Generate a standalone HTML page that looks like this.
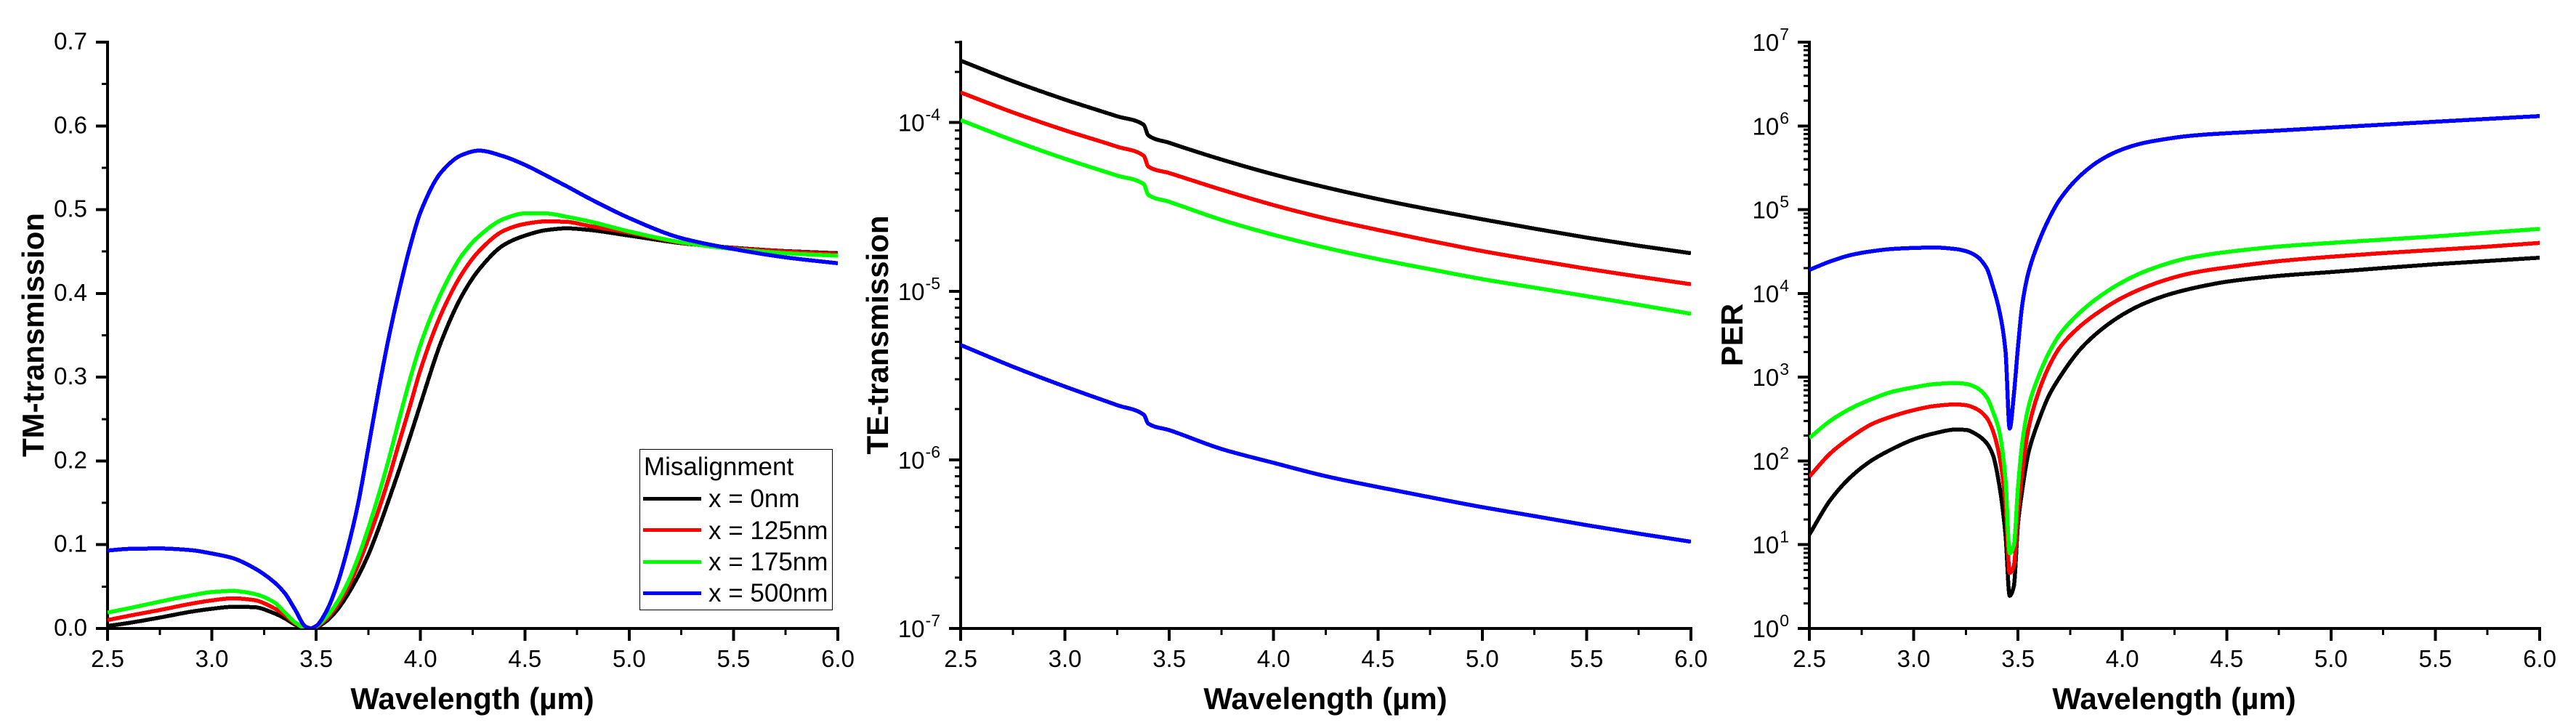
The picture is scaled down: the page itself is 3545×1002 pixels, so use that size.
<!DOCTYPE html>
<html>
<head>
<meta charset="utf-8">
<title>Misalignment transmission charts</title>
<style>
html,body{margin:0;padding:0;background:#fff;}
svg{display:block;}
text{font-family:"Liberation Sans",Arial,sans-serif;fill:#000;}
.title{font-weight:bold;font-size:42px;text-anchor:middle;}
.tick{font-size:33px;}
.leg{font-size:35px;}
</style>
</head>
<body>
<svg id="figure" xmlns="http://www.w3.org/2000/svg" width="3545" height="1002" viewBox="0 0 3545 1002">
  <rect width="3545" height="1002" fill="#fff"/>
  <defs>
    <clipPath id="clip-tm"><rect x="148" y="58" width="1005" height="807"/></clipPath>
    <clipPath id="clip-te"><rect x="1322" y="58" width="1005" height="807"/></clipPath>
    <clipPath id="clip-per"><rect x="2490" y="58" width="1005" height="807"/></clipPath>
  </defs>

  <g id="chart-tm">
    <text class="title" x="650" y="976">Wavelength (µm)</text>
    <text class="title" transform="translate(60,461) rotate(-90)">TM-transmission</text>
  </g>
  <g id="chart-te">
    <text class="title" x="1824" y="976">Wavelength (µm)</text>
    <text class="title" transform="translate(1222,461) rotate(-90)">TE-transmission</text>
  </g>
  <g id="chart-per">
    <text class="title" x="2992" y="976">Wavelength (µm)</text>
    <text class="title" transform="translate(2398,461) rotate(-90)">PER</text>
  </g>

  <g id="legend">
    <rect x="880.5" y="618.5" width="265" height="221" fill="#fff" stroke="#000" stroke-width="1" shape-rendering="crispEdges"/>
    <text class="leg" x="886" y="654">Misalignment</text>
    <rect x="885" y="684" width="80" height="5" fill="#000"/>
    <text class="leg" x="975" y="698">x = 0nm</text>
    <rect x="885" y="727" width="80" height="5" fill="#f00"/>
    <text class="leg" x="975" y="742">x = 125nm</text>
    <rect x="885" y="771" width="80" height="5" fill="#0f0"/>
    <text class="leg" x="975" y="785">x = 175nm</text>
    <rect x="885" y="814" width="80" height="5" fill="#00f"/>
    <text class="leg" x="975" y="828">x = 500nm</text>
  </g>
</svg>

<script>
// ---------- shared axis data ----------
const xTickValues = [2.5, 3.0, 3.5, 4.0, 4.5, 5.0, 5.5, 6.0];
const xTickLabels = ['2.5', '3.0', '3.5', '4.0', '4.5', '5.0', '5.5', '6.0'];
const xMinorValues = [2.75, 3.25, 3.75, 4.25, 4.75, 5.25, 5.75];
const seriesColors = ['#000000', '#ff0000', '#00ff00', '#0000ff'];
const seriesKeys = ['x-0nm', 'x-125nm', 'x-175nm', 'x-500nm'];

// ---------- TM transmission ----------
const tmWavelength = [2.5,2.6,2.75,2.9,3.0,3.1,3.2,3.3,3.35,3.4,3.45,3.475,3.5,3.55,3.6,3.65,3.7,3.75,3.8,3.85,3.9,3.95,4.0,4.1,4.2,4.28,4.4,4.5,4.6,4.7,4.8,5.0,5.25,5.5,5.75,6.0];
const tm0nm   = [.003,.0065,.013,.020,.0235,.0258,.0255,.018,.012,.0045,.0003,0,.0015,.009,.022,.040,.062,.088,.120,.155,.191,.229,.268,.343,.398,.4284,.458,.469,.4755,.4777,.476,.469,.46,.4545,.4505,.448];
const tm125nm = [.0100,.015,.022,.0295,.0335,.036,.034,.024,.016,.006,.0004,0,.002,.0115,.027,.048,.075,.107,.142,.181,.224,.266,.309,.376,.424,.4504,.475,.483,.486,.4855,.481,.4725,.4605,.454,.45,.447];
const tm175nm = [.019,.024,.032,.0395,.0435,.0448,.0415,.031,.019,.007,.0005,0,.0025,.014,.031,.054,.084,.120,.160,.204,.252,.298,.339,.401,.446,.4684,.489,.4955,.4955,.4915,.4865,.474,.461,.453,.448,.445];
const tm500nm = [.093,.095,.0955,.0935,.0895,.084,.0725,.055,.042,.022,.002,.0003,.003,.021,.052,.095,.148,.216,.286,.350,.406,.456,.497,.545,.5655,.5705,.5635,.5535,.541,.528,.5145,.490,.466,.453,.443,.436];
const tmTickValues = [0,.1,.2,.3,.4,.5,.6,.7];
const tmTickLabels = ['0.0','0.1','0.2','0.3','0.4','0.5','0.6','0.7'];
const tmMinorValues = [.05,.15,.25,.35,.45,.55,.65];

// ---------- TE transmission ----------
const teWavelength = [2.5,2.75,3.0,3.25,3.378,3.399,3.5,3.75,4.0,4.25,4.5,4.75,5.0,5.25,5.5,5.75,6.0];
const te0nm   = [2.33e-4,1.76e-4,1.37e-4,1.09e-4,9.69e-5,8.4e-5,7.59e-5,6.04e-5,4.93e-5,4.13e-5,3.52e-5,3.05e-5,2.67e-5,2.35e-5,2.08e-5,1.86e-5,1.68e-5];
const te125nm = [1.51e-4,1.15e-4,9.0e-5,7.2e-5,6.35e-5,5.49e-5,5.02e-5,4.0e-5,3.24e-5,2.70e-5,2.31e-5,1.99e-5,1.73e-5,1.53e-5,1.36e-5,1.22e-5,1.10e-5];
const te175nm = [1.035e-4,7.85e-5,6.1e-5,4.85e-5,4.31e-5,3.73e-5,3.39e-5,2.65e-5,2.16e-5,1.81e-5,1.55e-5,1.35e-5,1.18e-5,1.05e-5,9.35e-6,8.3e-6,7.35e-6];
const te500nm = [4.8e-6,3.57e-6,2.72e-6,2.11e-6,1.85e-6,1.64e-6,1.50e-6,1.16e-6,9.6e-7,8.0e-7,6.9e-7,6.0e-7,5.24e-7,4.64e-7,4.1e-7,3.65e-7,3.27e-7];
const teDecades = [-7,-6,-5,-4];
const teDecadeLabels = ['-7','-6','-5','-4'];
const teMinorMultipliers = [2,3,4,5,6,7,8,9];
const teMin = 1e-7;
const teMax = 3e-4;

// ---------- PER ----------
const perWavelength = [2.5,2.6,2.7,2.8,2.9,3.0,3.1,3.2,3.25,3.3,3.35,3.38,3.41,3.44,3.46,3.48,3.5,3.52,3.55,3.6,3.65,3.7,3.8,3.9,4.0,4.1,4.2,4.3,4.4,4.5,4.75,5.0,5.25,5.5,5.75,6.0];
const per0nm   = [13.2,34,65,102,140,181,214,237,235,208,163,117,52,13,2.45,3.2,18,44.5,125,307,617,1000,2180,3720,5560,7500,9330,10960,12450,13800,16200,18000,20100,22300,24400,26700];
const per125nm = [65,123,193,276,343,404,453,473,463,419,327,227,117,31,4.6,5.6,24,73,243,682,1370,2260,4110,6310,8910,11600,14300,16800,18800,20400,24300,27400,30300,33100,36200,40100];
const per175nm = [188,301,426,550,674,756,827,851,832,753,577,387,227,60,7.9,9.9,49,163,442,1050,2000,3240,6030,9550,13650,18000,22130,26000,28840,31260,36300,40100,43900,48000,53200,58900];
const per500nm = [19100,24100,28800,31900,34000,34900,35300,33900,32000,28000,20000,12000,6310,2040,243,617,2330,7240,17800,41700,79400,132000,257000,398000,525000,624000,692000,750000,789000,817000,881000,955000,1035000,1122000,1213000,1310000];
const perDecades = [0,1,2,3,4,5,6,7];
const perDecadeLabels = ['0','1','2','3','4','5','6','7'];
const perMinorMultipliers = [2,3,4,5,6,7,8,9];
const perMin = 1;
const perMax = 1e7;

// ---------- drawing ----------
const SVG_NS = 'http://www.w3.org/2000/svg';
const PLOT_TOP = 58, PLOT_BOTTOM = 865, PLOT_W = 1005;

function node(tag, parent, attrs) {
  const el = document.createElementNS(SVG_NS, tag);
  for (const k in attrs) el.setAttribute(k, attrs[k]);
  parent.appendChild(el);
  return el;
}
function xScale(left) { return v => left + (v - 2.5) / 3.5 * PLOT_W; }
function linScale(max) { return v => PLOT_BOTTOM - v / max * (PLOT_BOTTOM - PLOT_TOP); }
function logScale(min, max) {
  const a = Math.log10(min), b = Math.log10(max);
  return v => PLOT_BOTTOM - (Math.log10(v) - a) / (b - a) * (PLOT_BOTTOM - PLOT_TOP);
}
function monotonePath(xs, ys) {
  const n = xs.length, h = [], s = [], m = new Array(n);
  for (let i = 0; i < n - 1; i++) { h[i] = xs[i+1] - xs[i]; s[i] = (ys[i+1] - ys[i]) / h[i]; }
  m[0] = s[0]; m[n-1] = s[n-2];
  for (let i = 1; i < n - 1; i++) {
    if (s[i-1] * s[i] <= 0) m[i] = 0;
    else {
      const w1 = 2 * h[i] + h[i-1], w2 = h[i] + 2 * h[i-1];
      m[i] = (w1 + w2) / (w1 / s[i-1] + w2 / s[i]);
    }
  }
  let d = 'M' + xs[0].toFixed(2) + ' ' + ys[0].toFixed(2);
  for (let i = 0; i < n - 1; i++) {
    const c1x = xs[i] + h[i] / 3, c1y = ys[i] + m[i] * h[i] / 3;
    const c2x = xs[i+1] - h[i] / 3, c2y = ys[i+1] - m[i+1] * h[i] / 3;
    d += 'C' + c1x.toFixed(2) + ' ' + c1y.toFixed(2) + ' ' + c2x.toFixed(2) + ' ' + c2y.toFixed(2) + ' ' + xs[i+1].toFixed(2) + ' ' + ys[i+1].toFixed(2);
  }
  return d;
}
function drawSeries(group, clipId, wavelengths, seriesList, xf, yf) {
  const layer = node('g', group, {'clip-path': 'url(#' + clipId + ')'});
  
  
  seriesList.forEach((vals, i) => {
    const p = node('path', layer, {
      d: monotonePath(wavelengths.map(xf), vals.map(yf)),
      fill: 'none', stroke: seriesColors[i], 'stroke-width': 5.5,
      'stroke-linejoin': 'round', 'shape-rendering': 'crispEdges'
    });
    
    
  });
}
function drawAxes(group, xf, left) {
  const ax = node('g', group, {stroke: '#000', 'shape-rendering': 'crispEdges'});
  
  
  const yLine = node('line', ax, {x1: left, x2: left, y1: PLOT_TOP - 2, y2: PLOT_BOTTOM + 2, 'stroke-width': 4});
  
  
  const xLine = node('line', ax, {x1: left - 2, x2: left + PLOT_W + 2, y1: PLOT_BOTTOM, y2: PLOT_BOTTOM, 'stroke-width': 4});
  
  
  xTickValues.forEach((v, i) => {
    const t = node('line', ax, {x1: xf(v), x2: xf(v), y1: PLOT_BOTTOM, y2: PLOT_BOTTOM + 17, 'stroke-width': 4});
    
    
    const l = node('text', group, {x: xf(v), y: 918, class: 'tick', 'text-anchor': 'middle'});
    
    
    l.textContent = xTickLabels[i];
  });
  xMinorValues.forEach(v => {
    const t = node('line', ax, {x1: xf(v), x2: xf(v), y1: PLOT_BOTTOM, y2: PLOT_BOTTOM + 9, 'stroke-width': 3});
    
    
  });
  return ax;
}
function yMajor(ax, left, y) {
  const t = node('line', ax, {x1: left - 16, x2: left, y1: y, y2: y, 'stroke-width': 4});
  
  
}
function yMinor(ax, left, y) {
  const t = node('line', ax, {x1: left - 8, x2: left, y1: y, y2: y, 'stroke-width': 3});
  
  
}
function drawLogY(group, ax, left, yf, decades, labels, multipliers, max) {
  decades.forEach((dec, i) => {
    const y = yf(Math.pow(10, dec));
    yMajor(ax, left, y);
    const l = node('text', group, {x: left - 28, y: y + 12, class: 'tick', 'text-anchor': 'end'});
    
    
    const base = node('tspan', l, {});
    base.textContent = '10';
    const exp = node('tspan', l, {dy: -15, 'font-size': 23, dx: 1});
    exp.textContent = labels[i];
    multipliers.forEach(m => {
      const val = m * Math.pow(10, dec);
      if (val <= max * 1.0001) yMinor(ax, left, yf(val));
    });
  });
}

// TM chart
(function () {
  const g = document.getElementById('chart-tm');
  const left = 148, xf = xScale(left), yf = linScale(0.7);
  const ax = drawAxes(g, xf, left);
  tmTickValues.forEach((v, i) => {
    yMajor(ax, left, yf(v));
    const l = node('text', g, {x: 120, y: yf(v) + 10, class: 'tick', 'text-anchor': 'end'});
    
    
    l.textContent = tmTickLabels[i];
  });
  tmMinorValues.forEach(v => yMinor(ax, left, yf(v)));
  drawSeries(g, 'clip-tm', tmWavelength, [tm0nm, tm125nm, tm175nm, tm500nm], xf, yf);
})();

// TE chart
(function () {
  const g = document.getElementById('chart-te');
  const left = 1322, xf = xScale(left), yf = logScale(teMin, teMax);
  const ax = drawAxes(g, xf, left);
  drawLogY(g, ax, left, yf, teDecades, teDecadeLabels, teMinorMultipliers, teMax);
  drawSeries(g, 'clip-te', teWavelength, [te0nm, te125nm, te175nm, te500nm], xf, yf);
})();

// PER chart
(function () {
  const g = document.getElementById('chart-per');
  const left = 2490, xf = xScale(left), yf = logScale(perMin, perMax);
  const ax = drawAxes(g, xf, left);
  drawLogY(g, ax, left, yf, perDecades, perDecadeLabels, perMinorMultipliers, perMax);
  drawSeries(g, 'clip-per', perWavelength, [per0nm, per125nm, per175nm, per500nm], xf, yf);
})();
</script>
</body>
</html>
